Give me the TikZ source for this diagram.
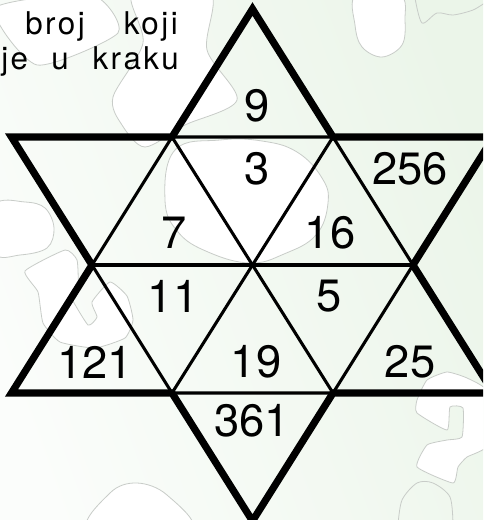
\documentclass[tikz,border=0pt]{standalone}
\usepackage{fontspec}
\setmainfont{TeX Gyre Heros}
\definecolor{bgL}{RGB}{235,245,233}
\definecolor{bgR}{RGB}{251,253,251}
\definecolor{blobline}{RGB}{200,204,200}
\tikzset{
  blob/.style={fill=white,draw=blobline,line width=0.6pt},
  thinline/.style={line width=2.3pt,line cap=round},
  thickline/.style={line width=5.4pt,line join=miter},
  num/.style={inner sep=0pt,font=\fontsize{34}{34}\selectfont},
  word/.style={inner sep=0pt,font=\fontsize{23.5}{23.5}\selectfont\addfontfeature{LetterSpace=8}}
}
\begin{document}
\begin{tikzpicture}[x=0.75pt,y=-0.75pt]
\useasboundingbox (0,0) rectangle (483,520);
\clip (0,0) rectangle (483,520);
% background
\shade[left color=bgL,right color=bgR,shading angle=-70] (-20,-20) rectangle (503,540);
% blobs
\path[blob] plot[smooth cycle,tension=0.4] coordinates {(-5,8) (37,65) (118,33) (92,-5)};
\path[blob] plot[smooth cycle,tension=0.5] coordinates {(133,-8) (143,43) (113,97) (122,125) (145,147) (185,125) (237,100) (207,50) (210,-8)};
\path[blob] plot[smooth cycle,tension=0.7] coordinates {(175,150) (220,140) (262,141) (297,152) (322,178) (328,203) (316,235) (284,254) (250,263) (208,252) (178,232) (165,200)};
\path[blob] plot[smooth cycle,tension=0.6] coordinates {(-5,205) (25,202) (45,208) (54,228) (47,248) (20,255) (-5,253)};
\path[blob] plot[smooth cycle,tension=0.3] coordinates {(25,271) (65,250) (77,260) (78,287) (70,295) (88,325) (97,317) (92,302) (110,282) (127,296) (133,320) (125,338) (95,348) (60,342) (43,323) (38,292)};
\path[blob] plot[smooth cycle,tension=0.6] coordinates {(90,530) (110,493) (137,483) (167,495) (190,530)};
\path[blob] plot[smooth cycle,tension=0.6] coordinates {(356,-5) (355,25) (362,47) (382,57) (402,45) (405,20) (400,-5)};
\draw[blobline,line width=0.6pt] plot[smooth,tension=0.5] coordinates {(415,-2) (422,23) (437,13) (453,15) (473,10) (486,2)};
\path[blob] plot[smooth cycle,tension=0.3] coordinates {(427,380) (447,372) (467,378) (488,392) (488,445) (467,457) (458,467) (453,483) (417,467) (427,445) (447,440) (462,437) (463,408) (450,407) (447,430) (417,413) (417,400)};
\draw[blobline,line width=0.6pt] plot[smooth,tension=0.5] coordinates {(398,525) (402,500) (417,483) (433,483) (450,497) (453,525)};
% text fragment
\node[word,anchor=base west] (w1) at (25,35) {broj};
\node[word,anchor=base east] (w2) at (178,35) {koji};
\node[word,anchor=base west] (w3) at (1,70) {je};
\node[word,anchor=base west] (w4) at (51,70) {u};
\node[word,anchor=base east] (w5) at (179,70) {kraku};
% star coordinates
\coordinate (T) at (252.5,9);
\coordinate (UL) at (11.5,137);
\coordinate (UR) at (493.5,137);
\coordinate (LL) at (11.5,393);
\coordinate (LR) at (493.5,393);
\coordinate (B) at (252.5,521);
\coordinate (HTL) at (172,137);
\coordinate (HTR) at (333,137);
\coordinate (HR) at (413,265);
\coordinate (HBR) at (333,393);
\coordinate (HBL) at (172,393);
\coordinate (HL) at (92,265);
\coordinate (C) at (252.5,265);
% thin inner lines
\draw[thinline] (HTL) -- (HTR) -- (HR) -- (HBR) -- (HBL) -- (HL) -- cycle;
\draw[thinline] (HTL) -- (HBR);
\draw[thinline] (HTR) -- (HBL);
\draw[thinline] (HL) -- (HR);
% thick outline
\draw[thickline] (T) -- (HTR) -- (UR) -- (HR) -- (LR) -- (HBR) -- (B) -- (HBL) -- (LL) -- (HL) -- (UL) -- (HTL) -- cycle;
% numbers
\node[num] (n9) at (257,106) {9};
\node[num] (n3) at (257,169) {3};
\node[num] (n256) at (410,169) {256};
\node[num] (n7) at (174,233) {7};
\node[num] (n16) at (330,233) {16};
\node[num] (n11) at (173,296) {11};
\node[num] (n5) at (329,296) {5};
\node[num] (n121) at (95,362) {121};
\node[num] (n19) at (256,362) {19};
\node[num] (n25) at (410,362) {25};
\node[num] (n361) at (252,421) {361};
\end{tikzpicture}
\end{document}
